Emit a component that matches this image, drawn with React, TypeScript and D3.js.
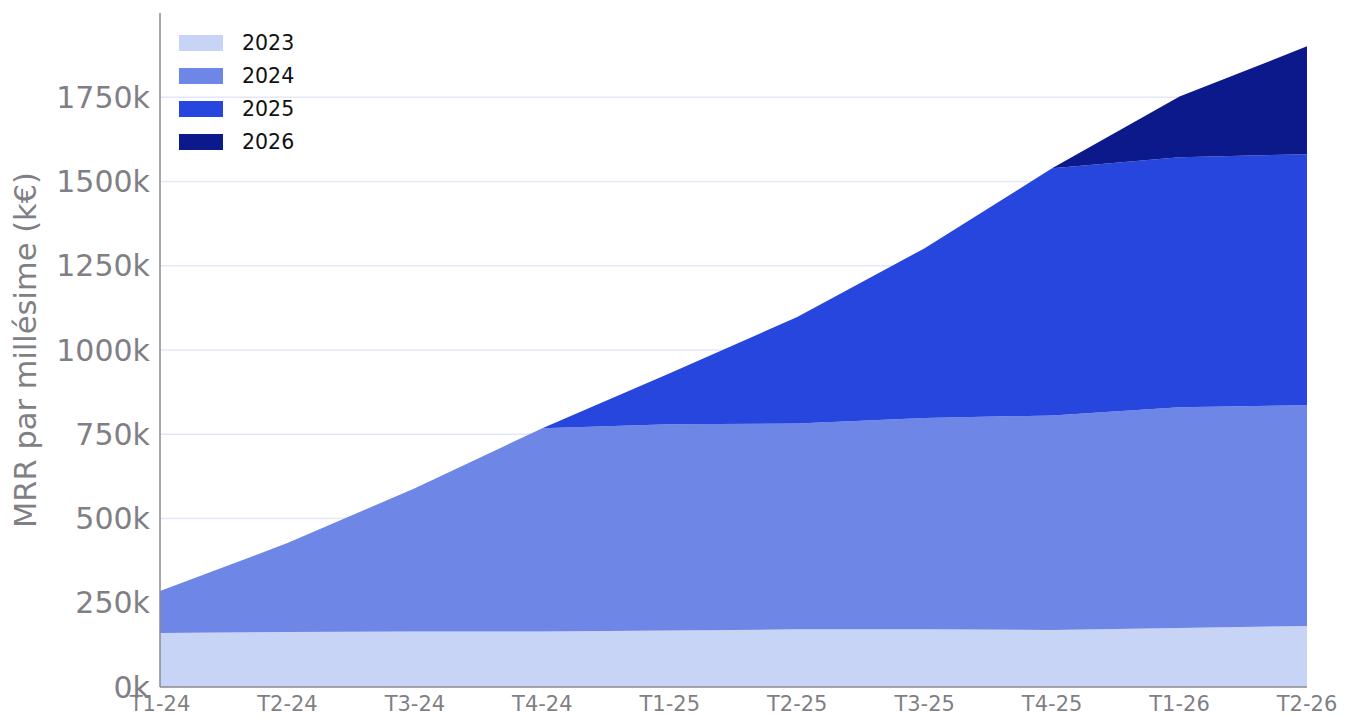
import React from "react";
import * as d3 from "d3";

// Quarters on the x axis
const quarters = ["T1-24", "T2-24", "T3-24", "T4-24", "T1-25", "T2-25", "T3-25", "T4-25", "T1-26", "T2-26"];

// MRR (k€) contributed by each vintage, per quarter
const mrr2023 = [160, 163, 165, 165, 168, 171, 171, 169, 175, 181];
const mrr2024 = [125, 264, 425, 603, 612, 611, 627, 637, 655, 655];
const mrr2025 = [0, 0, 0, 0, 151, 316, 504, 733, 742, 745];
const mrr2026 = [0, 0, 0, 0, 0, 0, 0, 0, 180, 320];

const vintages = ["2023", "2024", "2025", "2026"];
const vintageColors = ["#c8d4f5", "#6e86e6", "#2746de", "#0b198a"];

const yTicks = [0, 250, 500, 750, 1000, 1250, 1500, 1750];

const W = 1345;
const H = 716;
const margin = { left: 160, right: 38, top: 13, bottom: 29 };
const FONT = "'DejaVu Sans', sans-serif";

export default function App() {
  const seriesByVintage: Record<string, number[]> = {
    "2023": mrr2023,
    "2024": mrr2024,
    "2025": mrr2025,
    "2026": mrr2026,
  };
  const rows = quarters.map((q, i) => {
    const r: Record<string, number | string> = { q };
    vintages.forEach((v) => (r[v] = seriesByVintage[v][i]));
    return r;
  });

  const stack = d3.stack<Record<string, number | string>>().keys(vintages);
  const layers = stack(rows as any);

  const x = d3
    .scalePoint<string>()
    .domain(quarters)
    .range([margin.left, W - margin.right]);
  const y = d3
    .scaleLinear()
    .domain([0, 2000])
    .range([H - margin.bottom, margin.top]);

  const area = d3
    .area<any>()
    .x((d) => x(d.data.q as string) as number)
    .y0((d) => y(d[0]))
    .y1((d) => y(d[1]))
    .curve(d3.curveLinear);

  const x0 = margin.left;
  const x1 = W - margin.right;
  const yBase = H - margin.bottom;

  return (
    <svg
      width={W}
      height={H}
      style={{ position: "absolute", left: 0, top: 0, display: "block" }}
      fontFamily={FONT}
    >
      <rect width={W} height={H} fill="#ffffff" />

      {/* horizontal grid */}
      {yTicks
        .filter((t) => t > 0)
        .map((t) => (
          <line key={t} x1={x0} x2={x1} y1={y(t)} y2={y(t)} stroke="#e4e7f6" strokeWidth={1.6} />
        ))}

      {/* stacked areas */}
      {layers.map((layer, i) => (
        <path key={layer.key} d={area(layer) || ""} fill={vintageColors[i]} />
      ))}

      {/* axes */}
      <line x1={x0} x2={x0} y1={margin.top} y2={yBase} stroke="#8a8a8f" strokeWidth={1.5} />
      <line x1={x0} x2={x1} y1={yBase} y2={yBase} stroke="#8a8a8f" strokeWidth={1.5} />

      {/* y tick labels */}
      {yTicks.map((t) => (
        <text
          key={t}
          x={x0 - 10}
          y={y(t)}
          textAnchor="end"
          dominantBaseline="central"
          fontSize={30}
          fill="#7f7f85"
        >
          {`${t}k`}
        </text>
      ))}

      {/* x tick labels */}
      {quarters.map((q) => (
        <text key={q} x={x(q)} y={711} textAnchor="middle" fontSize={21} fill="#7f7f85">
          {q}
        </text>
      ))}

      {/* y axis title */}
      <text
        transform={`translate(36, 350) rotate(-90)`}
        textAnchor="middle"
        fontSize={30.5}
        fill="#7f7f85"
      >
        MRR par millésime (k€)
      </text>

      {/* legend */}
      {vintages.map((v, i) => (
        <g key={v} transform={`translate(179, ${35 + i * 33})`}>
          <rect width={44} height={16} fill={vintageColors[i]} />
          <text x={63} y={8} dominantBaseline="central" fontSize={20.5} fill="#111111">
            {v}
          </text>
        </g>
      ))}
    </svg>
  );
}
